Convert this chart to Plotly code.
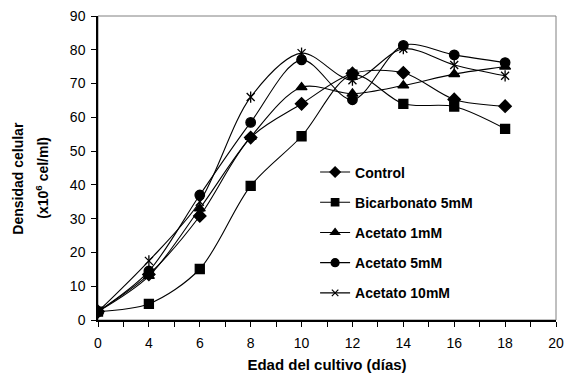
import plotly.graph_objects as go

day_labels = ["0", "4", "6", "8", "10", "12", "14", "16", "18", "20"]
data_days = ["0", "4", "6", "8", "10", "12", "14", "16", "18"]

control = [2.5, 13.5, 30.8, 54.0, 64.0, 73.0, 73.2, 65.3, 63.3]
bicarbonato_5mM = [2.5, 4.8, 15.1, 39.7, 54.4, 72.6, 64.0, 63.2, 56.6]
acetato_1mM = [2.5, 13.0, 33.0, 54.2, 68.9, 67.0, 69.4, 72.8, 75.0]
acetato_5mM = [2.5, 14.5, 37.0, 58.5, 77.0, 65.2, 81.3, 78.5, 76.2]
acetato_10mM = [2.5, 17.5, 35.0, 66.0, 79.0, 71.0, 80.3, 75.5, 72.3]

series_names = ["Control", "Bicarbonato 5mM", "Acetato 1mM", "Acetato 5mM", "Acetato 10mM"]

y_title_lines = ["Densidad celular", "(x10<sup>6</sup> cel/ml)"]
x_title = "Edad del cultivo (días)"

xpos = [day_labels.index(d) for d in data_days]

fig = go.Figure()

styles = [
    dict(symbol="diamond", size=9.5, lsize=8),
    dict(symbol="square", size=9, lsize=7.5),
    dict(symbol="triangle-up", size=9.5, lsize=8),
    dict(symbol="circle", size=9.5, lsize=8),
    dict(symbol="x-thin-open", size=8, lsize=6.5),
]
all_series = [control, bicarbonato_5mM, acetato_1mM, acetato_5mM, acetato_10mM]

for name, vals, st in zip(series_names, all_series, styles):
    fig.add_trace(go.Scatter(
        x=xpos, y=vals, name=name, mode="lines+markers",
        legendgroup=name, showlegend=False,
        line=dict(color="black", width=1.1, shape="spline", smoothing=0.9),
        marker=dict(symbol=st["symbol"], size=st["size"], color="black",
                    line=dict(color="black", width=1.3)),
    ))

# vertical stroke of the Excel-style star marker
fig.add_trace(go.Scatter(
    x=xpos, y=acetato_10mM, mode="markers", showlegend=False,
    hoverinfo="skip",
    marker=dict(symbol="line-ns-open", size=8, color="black",
                line=dict(color="black", width=1.3)),
))

# legend entries (smaller symbols, as in the reference legend)
for name, st in zip(series_names, styles):
    fig.add_trace(go.Scatter(
        x=[None], y=[None], name=name, mode="lines+markers",
        legendgroup=name, showlegend=True,
        line=dict(color="black", width=1.1),
        marker=dict(symbol=st["symbol"], size=st["lsize"], color="black",
                    line=dict(color="black", width=1.2)),
    ))

FONT = "Liberation Sans, Arial, sans-serif"

annotations = []
for txt, xp in zip(y_title_lines, [-0.1747, -0.1223]):
    annotations.append(dict(
        text=txt, xref="paper", yref="paper", x=xp, y=0.468,
        xanchor="center", yanchor="middle", textangle=-90, showarrow=False,
        font=dict(size=14, family=FONT, weight="bold", color="black"),
    ))

fig.update_layout(
    width=565, height=377,
    margin=dict(l=98, r=9, t=16, b=57, autoexpand=False),
    paper_bgcolor="white", plot_bgcolor="white",
    font=dict(family=FONT, color="black"),
    showlegend=True,
    legend=dict(x=0.474, y=0.538, xanchor="left", yanchor="top",
                bgcolor="rgba(0,0,0,0)", tracegroupgap=9,
                font=dict(size=14, family=FONT, weight="bold"),
                itemwidth=30),
    shapes=[dict(type="rect", xref="paper", yref="paper", x0=0, x1=1, y0=0, y1=1,
                 line=dict(color="#808080", width=1), layer="below")],
    annotations=annotations,
)

fig.update_xaxes(
    range=[0, 9], tickmode="array", tickvals=list(range(len(day_labels))), ticktext=day_labels,
    ticks="outside", ticklen=5, tickwidth=1, tickcolor="black",
    minor=dict(ticks="outside", ticklen=5, tickwidth=1, tickcolor="black",
               tick0=0.5, dtick=1, showgrid=False),
    showline=True, linecolor="black", linewidth=1.5, showgrid=False, zeroline=False,
    tickfont=dict(size=14), ticklabelstandoff=4, automargin=False,
    ticklabeloverflow="allow",
    title=dict(text=x_title, font=dict(size=15, weight="bold"), standoff=10),
)
fig.update_yaxes(
    range=[0, 90], dtick=10, ticks="outside", ticklen=5, tickwidth=1, tickcolor="black",
    showline=True, linecolor="black", linewidth=1.5, showgrid=False, zeroline=False,
    tickfont=dict(size=14), ticklabelstandoff=3, automargin=False,
)

fig.write_html("out.html", config={"displayModeBar": False},
               post_script="document.body.style.margin='0';")
